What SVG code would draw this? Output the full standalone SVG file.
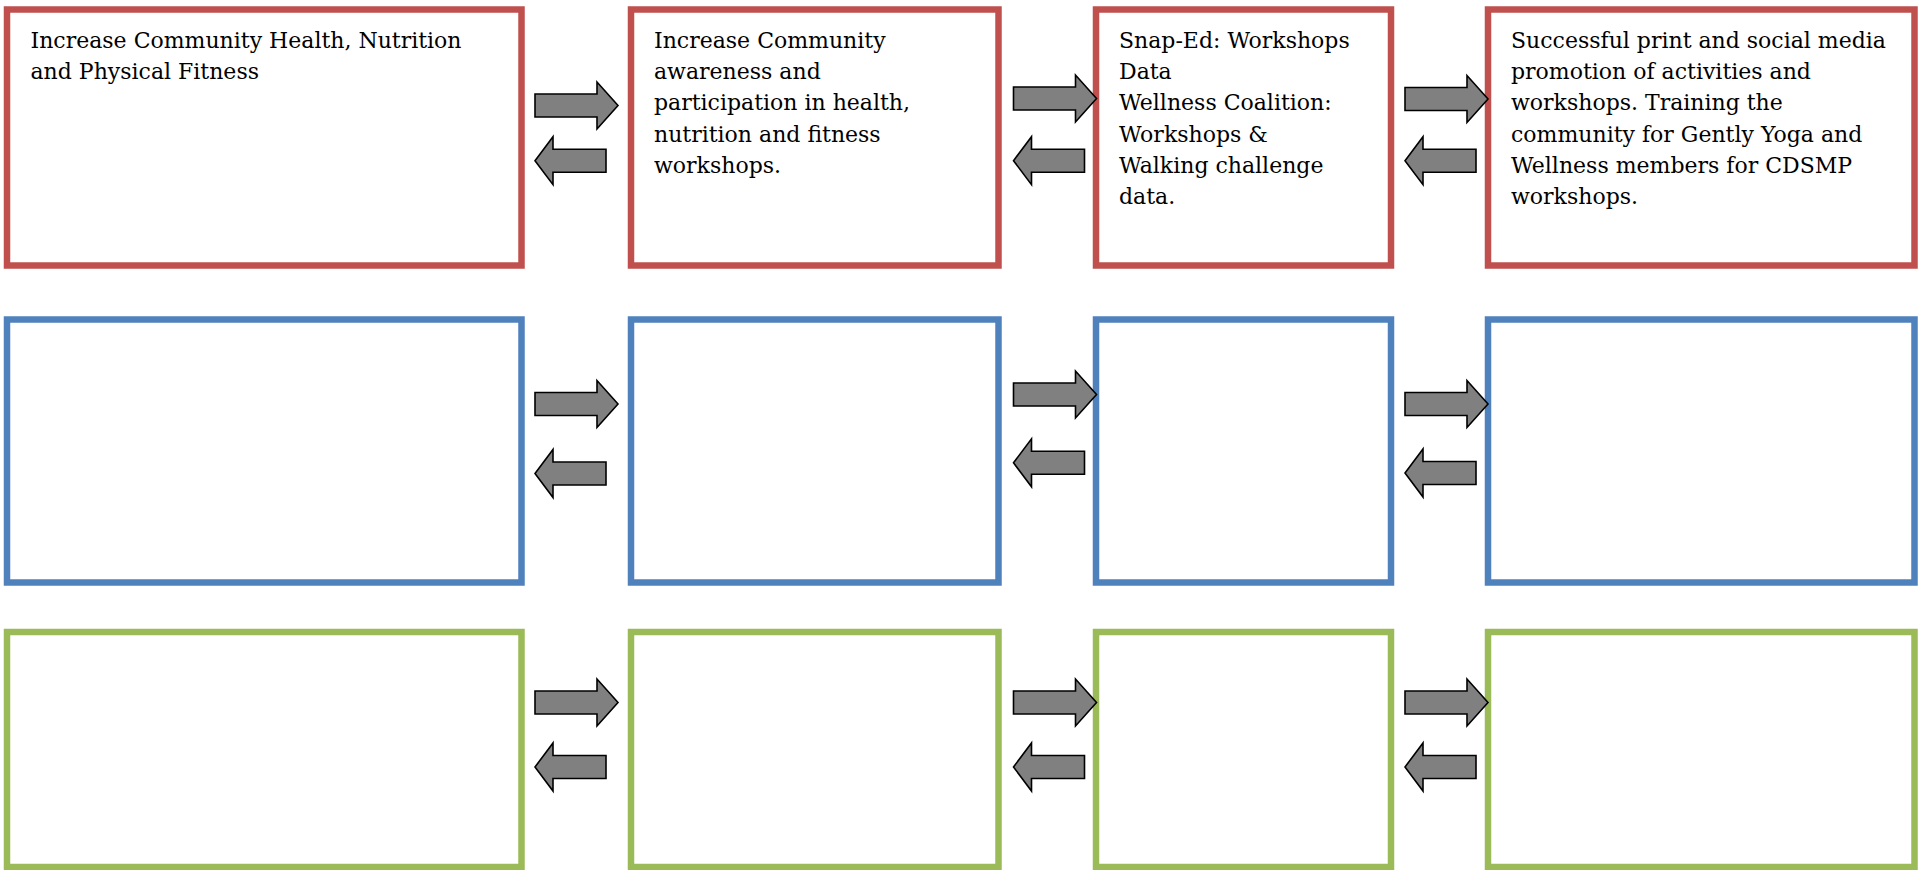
<svg xmlns="http://www.w3.org/2000/svg" xmlns:xlink="http://www.w3.org/1999/xlink" width="1921" height="870" viewBox="0 0 1921 870">
<style>
.box{fill:#fff;stroke-width:6.5}
.red{stroke:#C0504D}
.blue{stroke:#4F81BD}
.green{stroke:#9BBB59}
.arr{fill:#808080;stroke:#000;stroke-width:1.6;stroke-linejoin:miter}
.t{font-family:"DejaVu Serif","Liberation Serif",serif;font-size:22px;fill:#000}
</style>
<defs>
<path id="ra" d="M0,-11.5 H62 V-23.5 L83,0 L62,23.5 V11.5 H0 Z"/>
<path id="la" d="M71,-11.5 H18 V-24 L0,0 L18,24 V11.5 H71 Z"/>
</defs>
<rect width="1921" height="870" fill="#fff"/>
<g id="r1c1"><rect class="box red" x="7" y="9.5" width="514.5" height="256"/>
<text class="t" x="30.5"><tspan x="30.5" y="47.5">Increase Community Health, Nutrition</tspan><tspan x="30.5" y="78.5">and Physical Fitness</tspan></text></g>
<g id="r1c2"><rect class="box red" x="631" y="9.5" width="367.5" height="256"/>
<text class="t"><tspan x="654" y="47.7">Increase Community</tspan><tspan x="654" y="79">awareness and</tspan><tspan x="654" y="110.3">participation in health,</tspan><tspan x="654" y="141.6">nutrition and fitness</tspan><tspan x="654" y="172.9">workshops.</tspan></text></g>
<g id="r1c3"><rect class="box red" x="1096" y="9.5" width="295" height="256"/>
<text class="t"><tspan x="1119" y="47.7">Snap-Ed: Workshops</tspan><tspan x="1119" y="79">Data</tspan><tspan x="1119" y="110.3">Wellness Coalition:</tspan><tspan x="1119" y="141.6">Workshops &amp;</tspan><tspan x="1119" y="172.9">Walking challenge</tspan><tspan x="1119" y="204.2">data.</tspan></text></g>
<g id="r1c4"><rect class="box red" x="1488" y="9.5" width="426.5" height="256"/>
<text class="t"><tspan x="1511" y="47.7">Successful print and social media</tspan><tspan x="1511" y="79">promotion of activities and</tspan><tspan x="1511" y="110.3">workshops. Training the</tspan><tspan x="1511" y="141.6">community for Gently Yoga and</tspan><tspan x="1511" y="172.9">Wellness members for CDSMP</tspan><tspan x="1511" y="204.2">workshops.</tspan></text></g>
<g id="r2c1"><rect class="box blue" x="7" y="319.5" width="514.5" height="263"/></g>
<g id="r2c2"><rect class="box blue" x="631" y="319.5" width="367.5" height="263"/></g>
<g id="r2c3"><rect class="box blue" x="1096" y="319.5" width="295" height="263"/></g>
<g id="r2c4"><rect class="box blue" x="1488" y="319.5" width="426.5" height="263"/></g>
<g id="r3c1"><rect class="box green" x="7" y="632" width="514.5" height="235"/></g>
<g id="r3c2"><rect class="box green" x="631" y="632" width="367.5" height="235"/></g>
<g id="r3c3"><rect class="box green" x="1096" y="632" width="295" height="235"/></g>
<g id="r3c4"><rect class="box green" x="1488" y="632" width="426.5" height="235"/></g>
<g id="connectors">
<use class="arr" xlink:href="#ra" href="#ra" transform="translate(535,105.5)"/>
<use class="arr" xlink:href="#la" href="#la" transform="translate(535,160.7)"/>
<use class="arr" xlink:href="#ra" href="#ra" transform="translate(1013.5,98.5)"/>
<use class="arr" xlink:href="#la" href="#la" transform="translate(1013.5,160.7)"/>
<use class="arr" xlink:href="#ra" href="#ra" transform="translate(1405,99)"/>
<use class="arr" xlink:href="#la" href="#la" transform="translate(1405,160.7)"/>
<use class="arr" xlink:href="#ra" href="#ra" transform="translate(535,404)"/>
<use class="arr" xlink:href="#la" href="#la" transform="translate(535,473.5)"/>
<use class="arr" xlink:href="#ra" href="#ra" transform="translate(1013.5,394.5)"/>
<use class="arr" xlink:href="#la" href="#la" transform="translate(1013.5,462.8)"/>
<use class="arr" xlink:href="#ra" href="#ra" transform="translate(1405,404)"/>
<use class="arr" xlink:href="#la" href="#la" transform="translate(1405,473)"/>
<use class="arr" xlink:href="#ra" href="#ra" transform="translate(535,702.5)"/>
<use class="arr" xlink:href="#la" href="#la" transform="translate(535,767)"/>
<use class="arr" xlink:href="#ra" href="#ra" transform="translate(1013.5,702.5)"/>
<use class="arr" xlink:href="#la" href="#la" transform="translate(1013.5,767)"/>
<use class="arr" xlink:href="#ra" href="#ra" transform="translate(1405,702.5)"/>
<use class="arr" xlink:href="#la" href="#la" transform="translate(1405,767)"/>
</g>
</svg>
